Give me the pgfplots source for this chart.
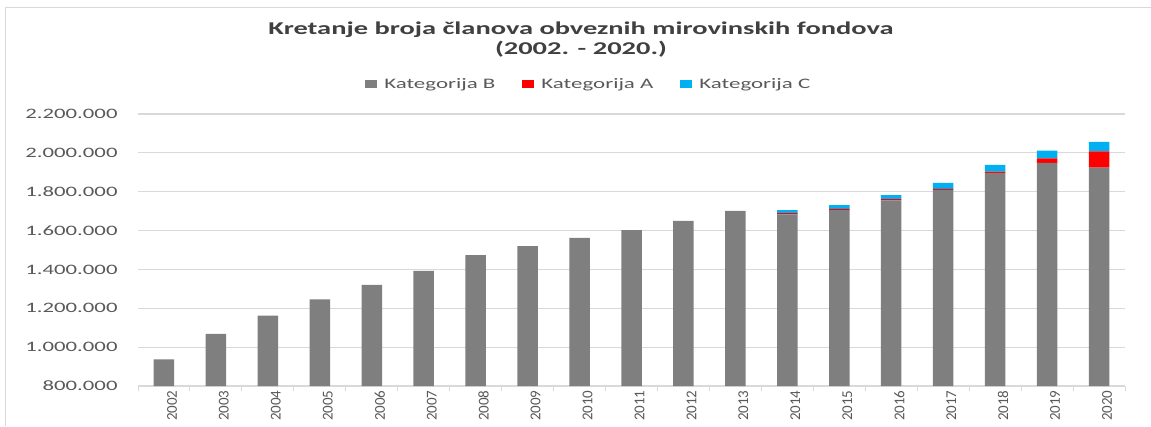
\documentclass[border=0pt]{standalone}
\usepackage{pgfplots}
\pgfplotsset{compat=1.18}
\usepackage{pgfplotstable}
\usepackage{fontspec}
\setmainfont{Carlito}
\newfontfamily\wide{Carlito}[FakeStretch=1.58]
\definecolor{cB}{HTML}{7F7F7F}
\definecolor{cA}{HTML}{FF0000}
\definecolor{cC}{HTML}{00B0F0}
\definecolor{gridc}{HTML}{D9D9D9}
\definecolor{txt}{HTML}{595959}
\definecolor{ttl}{HTML}{404040}

\pgfplotstableread{
x B A C
0 937000 0 0
1 1068000 0 0
2 1162000 0 0
3 1246000 0 0
4 1320000 0 0
5 1393000 0 0
6 1473000 0 0
7 1520000 0 0
8 1562000 0 0
9 1602000 0 0
10 1650000 0 0
11 1701000 0 0
12 1683000 7000 15000
13 1705000 7000 19000
14 1755000 7000 21000
15 1809000 6000 30000
16 1897000 6000 35000
17 1948000 24000 40000
18 1924000 83000 50000
}\data

\begin{document}
\begin{tikzpicture}[x=1pt,y=1pt]
\useasboundingbox (0,0) rectangle (1151,426);
\draw[gridc, line width=1pt] (5.5,0) -- (5.5,418) -- (1151,418);
\begin{axis}[
  at={(138pt,40pt)}, anchor=south west,
  scale only axis, width=987pt, height=272pt,
  xmin=-0.5, xmax=18.5, ymin=800000, ymax=2200000,
  scaled y ticks=false,
  ybar stacked, bar width=20.5pt,
  axis x line*=bottom, axis y line*=left,
  x axis line style={draw=gridc, line width=1.2pt, -},
  y axis line style={draw=none},
  ytick={800000,1000000,1200000,1400000,1600000,1800000,2000000,2200000},
  yticklabels={800.000,1.000.000,1.200.000,1.400.000,1.600.000,1.800.000,2.000.000,2.200.000},
  ytick style={draw=none},
  ymajorgrids, grid style={draw=gridc, line width=1.2pt},
  yticklabel style={font=\wide\fontsize{14.4}{15}\selectfont, text=txt, anchor=east, inner sep=0pt, xshift=-16pt},
  xtick={0,...,18},
  xticklabels={2002,2003,2004,2005,2006,2007,2008,2009,2010,2011,2012,2013,2014,2015,2016,2017,2018,2019,2020},
  major x tick style={draw=none},
  minor xtick={-0.5,0.5,...,18.5},
  minor x tick style={draw=gridc, line width=1pt},
  minor tick length=5pt,
  tick align=outside,
  xticklabel style={rotate=90, anchor=east, inner sep=0pt, font=\fontsize{15}{16}\selectfont, text=txt, yshift=-8pt},
  legend style={at={(axis description cs:0.227,1.110)}, anchor=west, draw=none, fill=none,
    legend columns=3, font=\wide\fontsize{14.5}{15}\selectfont, text=txt,
    nodes={inner sep=0pt},
    /tikz/every even column/.append style={column sep=27pt},
    /tikz/every odd column/.append style={column sep=7pt}},
  legend cell align=left,
  legend image code/.code={\fill[#1] (0pt,-3.75pt) rectangle (12pt,3.75pt);},
]
\addplot[fill=cB, draw=none] table[x=x, y=B] {\data};
\addplot[fill=cA, draw=none] table[x=x, y=A] {\data};
\addplot[fill=cC, draw=none] table[x=x, y=C] {\data};
\legend{Kategorija B, Kategorija A, Kategorija C}
\end{axis}
\node[align=center, font=\wide\bfseries\fontsize{18}{20}\selectfont, text=ttl] at (581,386)
  {Kretanje broja članova obveznih mirovinskih fondova\\(2002. - 2020.)};
\end{tikzpicture}
\end{document}
